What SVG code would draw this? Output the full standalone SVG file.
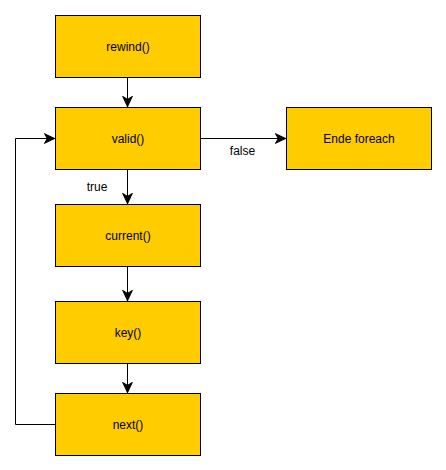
<svg xmlns="http://www.w3.org/2000/svg" width="446" height="470" viewBox="0 0 446 470">
  <style>
    .box { fill: #ffcc00; stroke: #000000; stroke-width: 1; }
    .lbl { font-family: "Liberation Sans", Arial, sans-serif; font-size: 12px; fill: #000000; text-anchor: middle; }
    .elbl { font-family: "Liberation Sans", Arial, sans-serif; font-size: 12px; fill: #000000; text-anchor: middle; }
    .edge { fill: none; stroke: #000000; stroke-width: 1; }
  </style>
  <defs>
    <marker id="arrow" markerUnits="userSpaceOnUse" markerWidth="12" markerHeight="12" viewBox="-10 -5 11 10" refX="0" refY="0" orient="auto">
      <path d="M0,0 L-9,-4.2 L-6.5,0 L-9,4.2 Z" fill="#000000" stroke="#000000" stroke-width="1"/>
    </marker>
  </defs>
  <rect width="446" height="470" fill="#ffffff"/>
  <g id="connectors">
    <path class="edge" d="M127.5,77.5 L127.5,106.5" marker-end="url(#arrow)"/>
    <path class="edge" d="M127.5,169.5 L127.5,203.5" marker-end="url(#arrow)"/>
    <path class="edge" d="M127.5,266.5 L127.5,300.5" marker-end="url(#arrow)"/>
    <path class="edge" d="M127.5,363.5 L127.5,392.5" marker-end="url(#arrow)"/>
    <path class="edge" d="M200.5,138.5 L285.5,138.5" marker-end="url(#arrow)"/>
    <path class="edge" d="M55.5,424.5 L15.5,424.5 L15.5,138.5 L54.5,138.5" marker-end="url(#arrow)"/>
    <text class="elbl" x="97" y="190.5">true</text>
    <text class="elbl" x="242.5" y="155">false</text>
  </g>
  <g id="rewind">
    <rect class="box" x="55.5" y="15.5" width="145" height="62"/>
    <text class="lbl" x="128" y="50.5">rewind()</text>
  </g>
  <g id="valid">
    <rect class="box" x="55.5" y="107.5" width="145" height="62"/>
    <text class="lbl" x="128" y="142.5">valid()</text>
  </g>
  <g id="ende">
    <rect class="box" x="286.5" y="107.5" width="145" height="62"/>
    <text class="lbl" x="359" y="142.5">Ende foreach</text>
  </g>
  <g id="current">
    <rect class="box" x="55.5" y="204.5" width="145" height="62"/>
    <text class="lbl" x="128" y="239.5">current()</text>
  </g>
  <g id="key">
    <rect class="box" x="55.5" y="301.5" width="145" height="62"/>
    <text class="lbl" x="128" y="336.5">key()</text>
  </g>
  <g id="next">
    <rect class="box" x="55.5" y="393.5" width="145" height="62"/>
    <text class="lbl" x="128" y="428.5">next()</text>
  </g>
</svg>
